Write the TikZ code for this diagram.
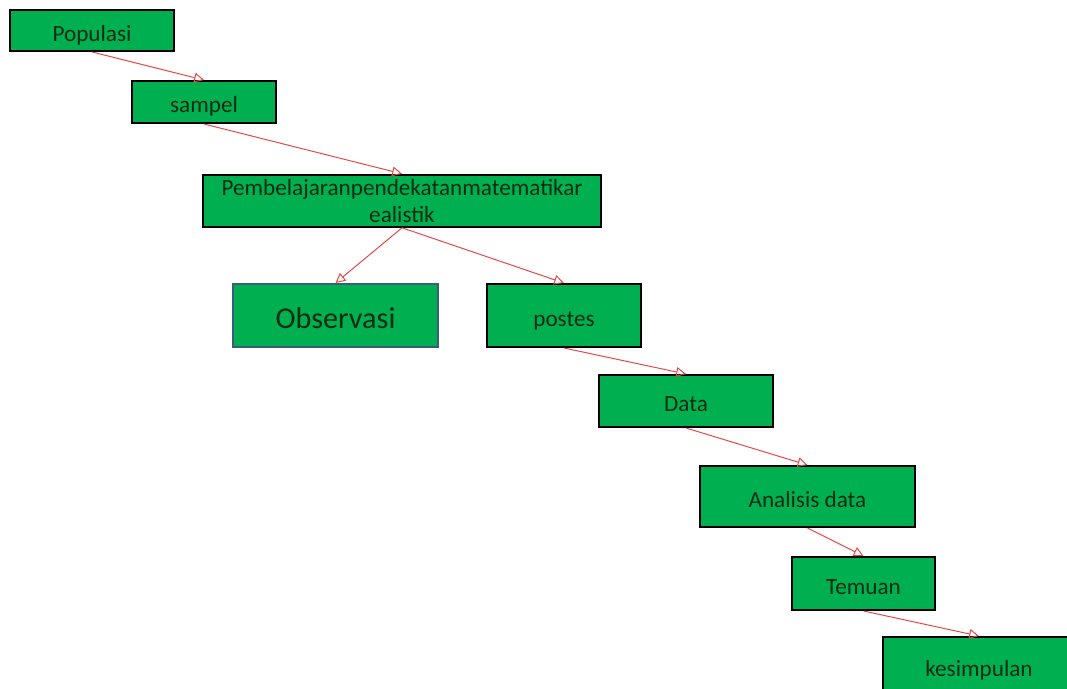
\documentclass[tikz,border=0pt]{standalone}
\usepackage{fontspec}
\setmainfont{Carlito}
\usepackage{tikz}
\usetikzlibrary{arrows.meta}
\definecolor{boxgreen}{RGB}{0,176,80}
\definecolor{textgreen}{RGB}{8,45,18}
\definecolor{tealline}{RGB}{55,95,125}
\definecolor{arrowred}{RGB}{232,70,70}
\tikzset{
  stepbox/.style={draw=black, line width=1.4pt, fill=boxgreen, text=textgreen, inner sep=0pt, font=\fontsize{16.5}{20}\selectfont},
  oneline/.style={stepbox, text height=15pt, text depth=0pt},
  flow/.style={draw=arrowred, line width=0.7pt, -{Triangle[open, length=7pt, width=7pt]}}
}

\begin{document}
\begin{tikzpicture}
\useasboundingbox (0,0) rectangle (26.675,-17.2);
\clip (0,0) rectangle (26.675,-17.2);
\node[oneline, minimum width=4.1cm, minimum height=1.025cm] (populasi) at (2.3,-0.7625) {Populasi};
\node[oneline, minimum width=3.6cm, minimum height=1.05cm] (sampel) at (5.1,-2.55) {sampel};
\node[stepbox, align=center, minimum width=9.95cm, minimum height=1.3cm] (pmr) at (10.05,-5.02) {Pembelajaranpendekatanmatematikar\\[-1pt]ealistik}; % teks terpotong seperti aslinya
\node[oneline, draw=tealline, minimum width=5.125cm, minimum height=1.575cm, font=\fontsize{21.5}{24}\selectfont, text height=18pt] (observasi) at (8.3875,-7.8875) {Observasi};
\node[oneline, minimum width=3.85cm, minimum height=1.575cm] (postes) at (14.1,-7.8875) {postes};
\node[oneline, minimum width=4.35cm, minimum height=1.3cm] (data) at (17.15,-10.025) {Data};
\node[oneline, minimum width=5.375cm, minimum height=1.525cm] (analisis) at (20.1875,-12.4125) {Analisis data};
\node[oneline, minimum width=3.575cm, minimum height=1.325cm] (temuan) at (21.5875,-14.5875) {Temuan};
\node[oneline, minimum width=4.8cm, minimum height=1.45cm] (kesimpulan) at (24.475,-16.65) {kesimpulan}; % keluar dari tepi gambar
\draw[flow] (populasi.south) -- (sampel.north);
\draw[flow] (sampel.south) -- (pmr.north);
\draw[flow] (pmr.south) -- (observasi.north);
\draw[flow] (pmr.south) -- (postes.north);
\draw[flow] (postes.south) -- (data.north);
\draw[flow] (data.south) -- (analisis.north);
\draw[flow] (analisis.south) -- (temuan.north);
\draw[flow] (temuan.south) -- (kesimpulan.north);
\end{tikzpicture}
\end{document}
